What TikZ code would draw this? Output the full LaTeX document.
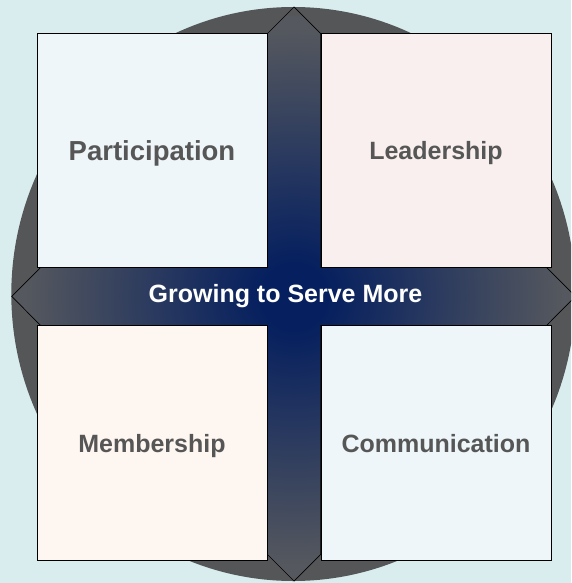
\documentclass[tikz,border=0pt]{standalone}
\usepackage{fontspec}
\setmainfont{Liberation Sans}
\definecolor{bgc}{HTML}{D9EDEF}
\definecolor{circc}{HTML}{555658}
\definecolor{navyc}{HTML}{06205F}
\definecolor{armgray}{HTML}{55585E}
\definecolor{txtc}{HTML}{565656}
\definecolor{fillA}{HTML}{EEF6F9}
\definecolor{fillB}{HTML}{F8EFEE}
\definecolor{fillC}{HTML}{FEF6F1}
\pgfdeclareradialshading{crossshade}{\pgfpoint{0bp}{0bp}}{color(0bp)=(navyc); color(3bp)=(navyc); color(24bp)=(armgray); color(50bp)=(armgray)}
\begin{document}
\begin{tikzpicture}[x=1pt,y=-1pt,
  quad/.style={draw=black, line width=0.9pt, minimum width=230pt, inner sep=0pt,
    font=\bfseries\fontsize{25}{28}\selectfont, text=txtc, text height=18pt, text depth=0pt},
  crossline/.style={draw=black, line width=0.7pt, line join=miter}]
\useasboundingbox (0,0) rectangle (571,583);
\fill[bgc] (0,0) rectangle (571,583);
\begin{scope}
  \clip (0,0) rectangle (571,583);
  \fill[circc] (293.3,294) ellipse [x radius=282pt, y radius=287pt];
  \begin{scope}
    \clip (294,7) -- (320.7,33.7) -- (320.7,267.3) -- (546.5,267.3) -- (575.5,296.4)
      -- (546.5,325.5) -- (320.7,325.5) -- (320.7,554.3) -- (294,581) -- (267.3,554.3)
      -- (267.3,325.5) -- (40.7,325.5) -- (11.7,296.4) -- (40.7,267.3) -- (267.3,267.3)
      -- (267.3,33.7) -- cycle;
    \shade[shading=crossshade] (14,16.4) rectangle (574,576.4);
  \end{scope}
  \draw[crossline] (294,7) -- (320.7,33.7) -- (320.7,267.3) -- (546.5,267.3) -- (575.5,296.4)
      -- (546.5,325.5) -- (320.7,325.5) -- (320.7,554.3) -- (294,581) -- (267.3,554.3)
      -- (267.3,325.5) -- (40.7,325.5) -- (11.7,296.4) -- (40.7,267.3) -- (267.3,267.3)
      -- (267.3,33.7) -- cycle;
\end{scope}
\node[quad, fill=fillA, minimum height=233.6pt, font=\bfseries\fontsize{27.5}{30}\selectfont, text height=19.7pt] (part) at (152,150.2) {Participation};
\node[quad, fill=fillB, minimum height=233.6pt] (lead) at (436,150.3) {Leadership};
\node[quad, fill=fillC, minimum height=235pt] (memb) at (152,443) {Membership};
\node[quad, fill=fillA, minimum height=235.3pt] (comm) at (436,443.2) {Communication};
\node[anchor=base, text=white, font=\bfseries\fontsize{25}{28}\selectfont, inner sep=0pt] (grow) at (285.5,302.3) {Growing to Serve More};
\end{tikzpicture}
\end{document}
